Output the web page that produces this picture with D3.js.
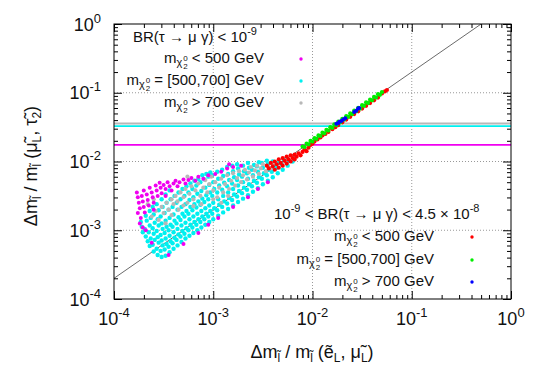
<!DOCTYPE html>
<html>
<head>
<meta charset="utf-8">
<script src="https://cdn.jsdelivr.net/npm/d3@7"></script>
<style>
body { margin: 0; background: #fff; }
text { font-family: "Liberation Sans", Arial, sans-serif; fill: #111; font-weight: 400; }
</style>
</head>
<body>
<div id="chart"></div>
<script>
// scan points, stored as [log10 x, log10 y]
var cyanPts = [
[-3.72,-2.95],[-3.71,-3.03],[-3.73,-2.88],
[-3.68,-3.09],[-3.69,-2.98],[-3.67,-2.86],[-3.68,-2.79],[-3.66,-3.16],
[-3.64,-3.23],[-3.63,-3.12],[-3.65,-3.03],[-3.64,-2.93],[-3.63,-2.82],[-3.64,-2.72],
[-3.60,-3.31],[-3.61,-3.21],[-3.59,-3.14],[-3.60,-3.05],[-3.61,-2.97],[-3.59,-2.89],[-3.60,-2.77],[-3.61,-2.66],
[-3.56,-3.36],[-3.57,-3.27],[-3.55,-3.18],[-3.56,-3.10],[-3.57,-3.01],[-3.55,-2.93],[-3.56,-2.84],[-3.55,-2.71],[-3.57,-2.62],
[-3.52,-3.39],[-3.53,-3.30],[-3.51,-3.22],[-3.52,-3.15],[-3.53,-3.07],[-3.51,-2.98],[-3.52,-2.90],[-3.53,-2.80],[-3.51,-2.66],[-3.52,-2.55],
[-3.48,-3.37],[-3.49,-3.28],[-3.47,-3.20],[-3.48,-3.12],[-3.49,-3.04],[-3.47,-2.95],[-3.48,-2.86],[-3.49,-2.75],[-3.47,-2.60],[-3.48,-2.48],
[-3.44,-3.32],[-3.45,-3.24],[-3.43,-3.16],[-3.44,-3.08],[-3.45,-3.00],[-3.43,-2.92],[-3.44,-2.82],[-3.45,-2.70],[-3.43,-2.55],[-3.44,-2.42],
[-3.40,-3.27],[-3.41,-3.19],[-3.39,-3.11],[-3.40,-3.03],[-3.41,-2.95],[-3.39,-2.86],[-3.40,-2.77],[-3.41,-2.66],[-3.39,-2.50],
[-3.36,-3.22],[-3.37,-3.14],[-3.35,-3.06],[-3.36,-2.98],[-3.37,-2.90],[-3.35,-2.81],[-3.36,-2.70],[-3.37,-2.60],[-3.35,-2.45],
[-3.32,-3.17],[-3.33,-3.09],[-3.31,-3.01],[-3.32,-2.93],[-3.33,-2.85],[-3.31,-2.76],[-3.32,-2.66],[-3.33,-2.55],[-3.31,-2.40],
[-3.28,-3.12],[-3.29,-3.05],[-3.27,-2.97],[-3.28,-2.89],[-3.29,-2.80],[-3.27,-2.72],[-3.28,-2.62],[-3.29,-2.50],[-3.27,-2.36],
[-3.24,-3.08],[-3.25,-3.00],[-3.23,-2.92],[-3.24,-2.84],[-3.25,-2.76],[-3.23,-2.66],[-3.24,-2.56],[-3.25,-2.45],[-3.23,-2.32],
[-3.20,-3.04],[-3.21,-2.96],[-3.19,-2.88],[-3.20,-2.80],[-3.21,-2.71],[-3.19,-2.62],[-3.20,-2.52],[-3.21,-2.40],[-3.19,-2.28],
[-3.16,-3.00],[-3.17,-2.92],[-3.15,-2.84],[-3.16,-2.76],[-3.17,-2.67],[-3.15,-2.58],[-3.16,-2.47],[-3.17,-2.35],[-3.15,-2.25],
[-3.12,-2.96],[-3.13,-2.88],[-3.11,-2.80],[-3.12,-2.72],[-3.13,-2.63],[-3.11,-2.54],[-3.12,-2.43],[-3.13,-2.30],[-3.11,-2.20],
[-3.08,-2.92],[-3.09,-2.84],[-3.07,-2.76],[-3.08,-2.68],[-3.09,-2.59],[-3.07,-2.49],[-3.08,-2.38],[-3.09,-2.26],[-3.07,-2.18],
[-3.04,-2.88],[-3.05,-2.80],[-3.03,-2.72],[-3.04,-2.64],[-3.05,-2.55],[-3.03,-2.45],[-3.04,-2.34],[-3.05,-2.22],[-3.03,-2.16],
[-3.00,-2.84],[-3.01,-2.76],[-2.99,-2.68],[-3.00,-2.60],[-3.01,-2.50],[-2.99,-2.40],[-3.00,-2.30],[-3.01,-2.20],
[-2.95,-2.79],[-2.96,-2.71],[-2.94,-2.63],[-2.95,-2.55],[-2.96,-2.45],[-2.94,-2.35],[-2.95,-2.25],[-2.96,-2.15],
[-2.90,-2.74],[-2.91,-2.66],[-2.89,-2.58],[-2.90,-2.50],[-2.91,-2.41],[-2.89,-2.31],[-2.90,-2.21],[-2.91,-2.12],
[-2.85,-2.69],[-2.86,-2.61],[-2.84,-2.53],[-2.85,-2.45],[-2.86,-2.36],[-2.84,-2.27],[-2.85,-2.18],[-2.86,-2.08],
[-2.80,-2.64],[-2.81,-2.56],[-2.79,-2.48],[-2.80,-2.40],[-2.81,-2.32],[-2.79,-2.23],[-2.80,-2.14],[-2.81,-2.06],
[-2.75,-2.59],[-2.76,-2.51],[-2.74,-2.43],[-2.75,-2.35],[-2.76,-2.27],[-2.74,-2.19],[-2.75,-2.10],[-2.76,-2.04],
[-2.70,-2.54],[-2.71,-2.46],[-2.69,-2.38],[-2.70,-2.30],[-2.71,-2.22],[-2.69,-2.14],[-2.70,-2.06],
[-2.65,-2.49],[-2.66,-2.41],[-2.64,-2.33],[-2.65,-2.25],[-2.66,-2.17],[-2.64,-2.09],[-2.65,-2.02],
[-2.60,-2.44],[-2.61,-2.36],[-2.59,-2.28],[-2.60,-2.20],[-2.61,-2.12],[-2.59,-2.05],
[-2.55,-2.39],[-2.56,-2.31],[-2.54,-2.23],[-2.55,-2.15],[-2.56,-2.07],[-2.54,-2.01],
[-2.50,-2.33],[-2.51,-2.25],[-2.49,-2.17],[-2.50,-2.09],[-2.51,-2.02],
[-2.45,-2.28],[-2.46,-2.20],[-2.44,-2.12],[-2.45,-2.04],[-2.46,-1.99],
[-2.40,-2.23],[-2.41,-2.15],[-2.39,-2.07],[-2.40,-2.00],
[-2.35,-2.17],[-2.36,-2.09],[-2.34,-2.02],
[-2.30,-2.12],[-2.31,-2.04],[-2.29,-1.97],
[-2.25,-2.06],[-2.24,-1.99],
[-2.20,-2.00],[-2.19,-1.94]
];
var grayPts = [
[-3.62,-2.80],[-3.58,-2.72],[-3.55,-2.85],[-3.52,-2.66],[-3.50,-2.75],[-3.47,-2.60],[-3.45,-2.70],
[-3.42,-2.55],[-3.40,-2.62],[-3.38,-2.50],[-3.36,-2.58],[-3.33,-2.45],[-3.30,-2.52],[-3.28,-2.40],
[-3.26,-2.60],[-3.24,-2.47],[-3.22,-2.36],[-3.20,-2.55],[-3.18,-2.42],[-3.15,-2.32],[-3.13,-2.50],
[-3.10,-2.38],[-3.08,-2.27],[-3.06,-2.45],[-3.04,-2.33],[-3.02,-2.22],[-3.00,-2.42],[-2.98,-2.30],
[-2.96,-2.52],[-2.94,-2.38],[-2.92,-2.25],[-2.90,-2.45],[-2.88,-2.33],[-2.86,-2.20],[-2.84,-2.40],
[-2.82,-2.28],[-2.80,-2.17],[-2.78,-2.35],[-2.76,-2.24],[-2.74,-2.14],[-2.72,-2.30],[-2.70,-2.20],
[-2.68,-2.12],[-2.66,-2.26],[-2.64,-2.16],[-2.62,-2.08],[-2.60,-2.22],[-2.58,-2.13],[-2.56,-2.06],
[-2.54,-2.18],[-2.52,-2.10],[-2.50,-2.04],[-2.47,-2.14],[-2.45,-2.07],[-2.42,-2.10],[-2.40,-2.03],
[-3.48,-2.90],[-3.35,-2.70],[-3.20,-2.65],[-3.00,-2.55],[-2.85,-2.50],[-3.26,-2.22],[-3.60,-2.55],
[-3.66,-2.62],[-3.12,-2.62],[-2.92,-2.60],[-3.42,-2.78],[-3.30,-2.64]
];
var magentaPts = [
[-3.77,-2.45],[-3.76,-2.52],[-3.75,-2.60],[-3.74,-2.68],[-3.76,-2.75],[-3.73,-2.82],[-3.72,-2.50],
[-3.71,-2.58],[-3.70,-2.66],[-3.69,-2.74],[-3.70,-2.42],[-3.67,-2.48],[-3.66,-2.56],[-3.65,-2.64],
[-3.64,-2.38],[-3.62,-2.45],[-3.61,-2.52],[-3.60,-2.60],[-3.58,-2.35],[-3.57,-2.42],[-3.56,-2.50],
[-3.54,-2.31],[-3.53,-2.38],[-3.52,-2.46],[-3.50,-2.34],[-3.48,-2.40],[-3.46,-2.30],[-3.44,-2.36],
[-3.42,-2.42],[-3.40,-2.32],[-3.38,-2.28],[-3.36,-2.36],[-3.34,-2.30],[-3.30,-2.26],[-3.28,-2.32],
[-3.25,-2.27],[-3.22,-2.24],[-3.18,-2.28],[-3.15,-2.22],[-3.10,-2.25],[-3.05,-2.20],[-2.98,-2.18],
[-2.92,-2.15],[-2.86,-2.10],[-2.84,-2.04],[-2.80,-2.08],[-2.72,-2.06],[-3.74,-2.90],[-3.71,-2.96],
[-3.68,-3.00],[-3.62,-3.18],[-3.45,-3.36],[-3.30,-3.20],[-3.15,-3.04],[-3.05,-2.92],[-2.95,-2.82],
[-2.80,-2.66],[-2.65,-2.52],[-2.55,-2.40],[-2.45,-2.30],[-3.60,-2.70],[-3.48,-2.50]
];
var redPts = [
[-2.46,-2.06],[-2.44,-2.10],[-2.42,-2.02],[-2.40,-2.07],[-2.38,-2.12],[-2.38,-2.00],[-2.36,-2.04],
[-2.34,-2.09],[-2.34,-1.97],[-2.32,-2.02],[-2.30,-2.06],[-2.30,-1.95],[-2.28,-1.99],[-2.26,-2.03],
[-2.26,-1.93],[-2.24,-1.97],[-2.22,-2.00],[-2.22,-1.91],[-2.20,-1.95],[-2.18,-1.90],[-2.18,-1.97],
[-2.16,-1.93],[-2.14,-1.88],[-2.12,-1.91],[-2.10,-1.86],[-2.08,-1.82],[-2.06,-1.85],[-2.04,-1.80],
[-2.02,-1.76],[-2.00,-1.74],[-1.98,-1.71],[-1.95,-1.68],[-1.92,-1.65],[-1.90,-1.62],[-1.87,-1.60],
[-1.84,-1.57],[-1.80,-1.53],[-1.77,-1.50],[-1.74,-1.47],[-1.70,-1.43],[-1.66,-1.39],[-1.62,-1.35],
[-1.58,-1.31],[-1.54,-1.27],[-1.50,-1.23],[-1.46,-1.19],[-1.42,-1.15],[-1.38,-1.11],[-1.34,-1.07],
[-1.30,-1.01],[-1.27,-0.98],[-1.25,-0.96]
];
var greenPts = [
[-2.10,-1.78],[-2.08,-1.79],[-2.06,-1.74],[-2.04,-1.75],[-2.02,-1.70],[-2.00,-1.71],[-1.98,-1.66],
[-1.96,-1.67],[-1.94,-1.62],[-1.92,-1.63],[-1.90,-1.58],[-1.88,-1.59],[-1.86,-1.54],[-1.84,-1.55],
[-1.82,-1.50],[-1.80,-1.51],[-1.78,-1.46],[-1.76,-1.47],[-1.74,-1.42],[-1.72,-1.43],[-1.70,-1.38],
[-1.68,-1.39],[-1.66,-1.34],[-1.64,-1.35],[-1.62,-1.30],[-1.60,-1.31],[-1.58,-1.26],[-1.56,-1.27],
[-1.54,-1.22],[-1.52,-1.23],[-1.50,-1.18],[-1.48,-1.19],[-1.46,-1.14],[-1.44,-1.15],[-1.42,-1.10],
[-1.40,-1.11],[-1.38,-1.06],[-1.36,-1.07],[-1.34,-1.02],[-1.32,-1.03],[-1.30,-0.99]
];
var bluePts = [
[-1.76,-1.45],[-1.74,-1.44],[-1.73,-1.42],[-1.71,-1.41],[-1.69,-1.39],[-1.67,-1.37],
[-1.58,-1.28],[-1.56,-1.26],[-1.54,-1.23],[-1.53,-1.22]
];
// horizontal limits: gray, cyan, magenta
var limitValues = [0.0357, 0.0326, 0.0174];
var limitColors = ['#b8b8b8', '#00f0f0', '#f000f0'];
var decades = [-4, -3, -2, -1, 0];
var diagRatio = 2;
var legendLabels = [' < 500 GeV', ' = [500,700] GeV', ' > 700 GeV'];

var w = 545, h = 382;
var m = {left: 114, right: 34, top: 24, bottom: 83};
var svg = d3.select('#chart').append('svg').attr('width', w).attr('height', h);

var x = d3.scaleLog().domain([1e-4, 1]).range([m.left, w - m.right]);
var y = d3.scaleLog().domain([1e-4, 1]).range([h - m.bottom, m.top]);

var minor = [];
decades.slice(0, 4).forEach(function (k) {
	for (var j = 2; j <= 9; j++) minor.push(j * Math.pow(10, k));
});
var major = decades.map(function (k) { return Math.pow(10, k); });

svg.append('clipPath').attr('id', 'clip').append('rect')
	.attr('x', m.left).attr('y', m.top)
	.attr('width', w - m.left - m.right).attr('height', h - m.top - m.bottom);

// dotted grid
var inner = major.slice(1, 4);
svg.selectAll('.gx').data(inner).enter().append('line')
	.attr('x1', function (d) { return x(d); }).attr('x2', function (d) { return x(d); })
	.attr('y1', m.top).attr('y2', h - m.bottom)
	.attr('stroke', '#999').attr('stroke-dasharray', '1,2');
svg.selectAll('.gy').data(inner).enter().append('line')
	.attr('y1', function (d) { return y(d); }).attr('y2', function (d) { return y(d); })
	.attr('x1', m.left).attr('x2', w - m.right)
	.attr('stroke', '#999').attr('stroke-dasharray', '1,2');

var plot = svg.append('g').attr('clip-path', 'url(#clip)');

// y = 2x line
var diagX = [1e-4, 1 / diagRatio];
plot.append('path')
	.datum(diagX)
	.attr('d', d3.line().x(function (d) { return x(d); }).y(function (d) { return y(d * diagRatio); }))
	.attr('stroke', '#444').attr('stroke-width', 0.8).attr('fill', 'none');

// limit lines
plot.selectAll('.lim').data(limitValues).enter().append('line')
	.attr('x1', m.left).attr('x2', w - m.right)
	.attr('y1', function (d) { return y(d); }).attr('y2', function (d) { return y(d); })
	.attr('stroke', function (d, i) { return limitColors[i]; })
	.attr('stroke-width', 1.8);

function drawPts(pts, color, r) {
	plot.append('g').selectAll('circle').data(pts).enter().append('circle')
		.attr('cx', function (d) { return x(Math.pow(10, d[0])); })
		.attr('cy', function (d) { return y(Math.pow(10, d[1])); })
		.attr('r', r)
		.attr('fill', color);
}
drawPts(cyanPts, '#00f0f0', 2.2);
drawPts(grayPts, '#b8b8b8', 2.1);
drawPts(magentaPts, '#f000f0', 2);
drawPts(redPts, '#ff0000', 2.1);
drawPts(greenPts, '#00ee00', 2.1);
drawPts(bluePts, '#0000ff', 2);

// axes with inward ticks on all sides
function tickAxis(axisFn, scale, vals, size, tx, ty) {
	svg.append('g').attr('transform', 'translate(' + tx + ',' + ty + ')')
		.call(axisFn(scale).tickValues(vals).tickSize(size).tickFormat(''))
		.call(function (g) { g.select('.domain').remove(); })
		.selectAll('line').attr('stroke', '#000');
}
tickAxis(d3.axisBottom, x, major, -8, 0, h - m.bottom);
tickAxis(d3.axisBottom, x, minor, -4, 0, h - m.bottom);
tickAxis(d3.axisTop, x, major, -8, 0, m.top);
tickAxis(d3.axisTop, x, minor, -4, 0, m.top);
tickAxis(d3.axisLeft, y, major, -8, m.left, 0);
tickAxis(d3.axisLeft, y, minor, -4, m.left, 0);
tickAxis(d3.axisRight, y, major, -8, w - m.right, 0);
tickAxis(d3.axisRight, y, minor, -4, w - m.right, 0);

svg.append('rect')
	.attr('x', m.left).attr('y', m.top)
	.attr('width', w - m.left - m.right).attr('height', h - m.top - m.bottom)
	.attr('fill', 'none').attr('stroke', '#000');

// rich text: parts = [text, size, offset from baseline, dx]
function rich(t, parts) {
	var prev = 0;
	parts.forEach(function (p) {
		var s = t.append('tspan').text(p[0]).attr('font-size', p[1]).attr('dy', p[2] - prev);
		if (p[3]) s.attr('dx', p[3]);
		prev = p[2];
	});
	return t;
}

// tick labels
decades.forEach(function (k) {
	rich(svg.append('text').attr('x', x(Math.pow(10, k))).attr('y', 325)
		.attr('text-anchor', 'middle'), [['10', 18, 0], [String(k), 13, -8], ['', 18, 0]]);
	rich(svg.append('text').attr('x', 101).attr('y', y(Math.pow(10, k)) + 6.5)
		.attr('text-anchor', 'end'), [['10', 18, 0], [String(k), 13, -8], ['', 18, 0]]);
});

// axis titles
rich(svg.append('text').attr('x', 312).attr('y', 358).attr('text-anchor', 'middle'),
	[['Δm', 18, 0], ['l̃', 12, 4], [' / m', 18, 0], ['l̃', 12, 4], [' (ẽ', 18, 0], ['L', 12, 4],
	 [', μ̃', 18, 0], ['L', 12, 4], [')', 18, 0]]);
rich(svg.append('text').attr('transform', 'translate(37,166) rotate(-90)').attr('text-anchor', 'middle'),
	[['Δm', 18, 0], ['l̃', 12, 4], [' / m', 18, 0], ['l̃', 12, 4], [' (μ̃', 18, 0], ['L', 12, 4],
	 [', τ̃', 18, 0], ['2', 12, 4], [')', 18, 0]]);

// legends
function massLabel(t, label) {
	return rich(t, [['m', 15, 0], ['χ', 11, 3], ['0', 8, -2, 1], ['2', 8, 6, -4.5], [label, 15, 0]]);
}
rich(svg.append('text').attr('x', 133).attr('y', 42),
	[['BR(τ → μ γ) < 10', 15, 0], ['-9', 11, -7], ['', 15, 0]]);
var topColors = ['#f000f0', '#00f0f0', '#b8b8b8'];
var topY = [59, 81, 103];
legendLabels.forEach(function (lab, i) {
	massLabel(svg.append('text').attr('x', 264).attr('y', topY[i] + 3.5).attr('text-anchor', 'end'), lab);
	svg.append('circle').attr('cx', 301).attr('cy', topY[i]).attr('r', 1.7).attr('fill', topColors[i]);
});

rich(svg.append('text').attr('x', 274).attr('y', 219),
	[['10', 15, 0], ['-9', 11, -7], [' < BR(τ → μ γ) < 4.5 × 10', 15, 0], ['-8', 11, -7], ['', 15, 0]]);
var botColors = ['#ff0000', '#00ee00', '#0000ff'];
var botY = [237, 260, 282];
legendLabels.forEach(function (lab, i) {
	massLabel(svg.append('text').attr('x', 434).attr('y', botY[i] + 4).attr('text-anchor', 'end'), lab);
	svg.append('circle').attr('cx', 472).attr('cy', botY[i]).attr('r', 1.7).attr('fill', botColors[i]);
});
</script>
</body>
</html>
